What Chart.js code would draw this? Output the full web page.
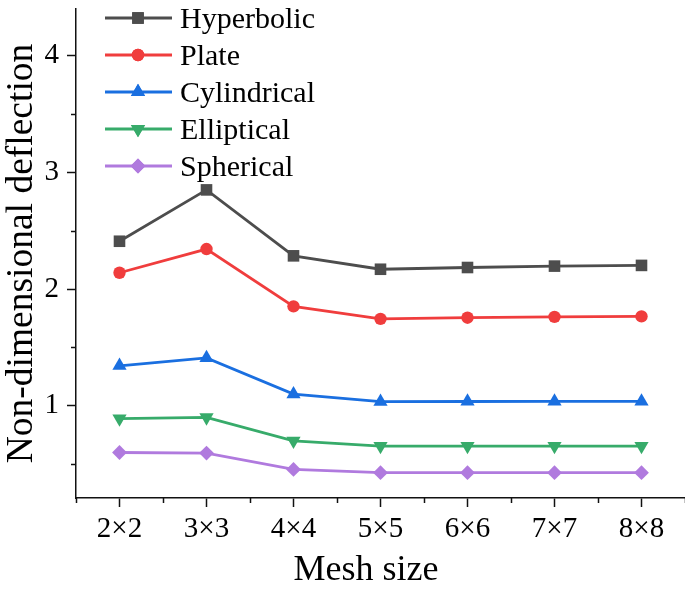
<!DOCTYPE html>
<html><head><meta charset="utf-8">
<script src="https://cdn.jsdelivr.net/npm/chart.js@4/dist/chart.umd.min.js"></script>
<style>html,body{margin:0;padding:0;background:#fff}#wrap{width:685px;height:591px;position:relative}canvas{display:block}</style>
</head><body><div id="wrap"><canvas id="c" width="685" height="591"></canvas></div>
<script>
const meshSizes = ['2×2','3×3','4×4','5×5','6×6','7×7','8×8'];
const hyperbolic = [2.41, 2.85, 2.285, 2.17, 2.185, 2.197, 2.203];
const plate = [2.14, 2.343, 1.852, 1.745, 1.755, 1.762, 1.766];
const cylindrical = [1.343, 1.41, 1.10, 1.035, 1.037, 1.038, 1.038];
const elliptical = [0.89, 0.90, 0.70, 0.655, 0.655, 0.655, 0.655];
const spherical = [0.60, 0.595, 0.455, 0.427, 0.427, 0.427, 0.427];
const yMajorTicks = [1, 2, 3, 4];
const yMinorTicks = [0.5, 1.5, 2.5, 3.5];
const seriesNames = ['Hyperbolic','Plate','Cylindrical','Elliptical','Spherical'];
const xTitle = 'Mesh size';
const yTitle = 'Non-dimensional deflection';

const FONT = "'Liberation Serif', 'Times New Roman', serif";
const styles = [
  {color:'#4d4d4d', pointStyle:'rect', radius:8.2, rotation:0},
  {color:'#f03d3d', pointStyle:'circle', radius:6.2, rotation:0},
  {color:'#1a6fe0', pointStyle:'triangle', radius:8.2, rotation:0},
  {color:'#37ab6a', pointStyle:'triangle', radius:8.2, rotation:180},
  {color:'#b07ade', pointStyle:'rectRot', radius:7.4, rotation:0}
];
const seriesData = [hyperbolic, plate, cylindrical, elliptical, spherical];

const datasets = seriesData.map((d,i)=>({
  label: seriesNames[i],
  data: d,
  borderColor: styles[i].color,
  backgroundColor: styles[i].color,
  borderWidth: 2.8,
  pointStyle: styles[i].pointStyle,
  pointRadius: styles[i].radius,
  pointRotation: styles[i].rotation,
  pointBorderWidth: 0,
  pointHoverRadius: styles[i].radius,
  tension: 0,
  clip: false
}));

const extras = {
  id:'extras',
  afterDraw(chart){
    const ctx = chart.ctx;
    const xs = chart.scales.x, ys = chart.scales.y;
    const area = chart.chartArea;
    ctx.save();
    ctx.strokeStyle = '#111';
    ctx.lineWidth = 1.5;
    yMinorTicks.forEach(v=>{
      const py = Math.round(ys.getPixelForValue(v))+0.5;
      ctx.beginPath(); ctx.moveTo(area.left-5, py); ctx.lineTo(area.left, py); ctx.stroke();
    });
    for (let k=-1;k<meshSizes.length;k++){
      const px = Math.round(xs.getPixelForValue(k+0.5))+0.5;
      ctx.beginPath(); ctx.moveTo(px, area.bottom); ctx.lineTo(px, area.bottom+5); ctx.stroke();
    }
    ctx.fillStyle = '#000';
    ctx.font = '36px ' + FONT;
    ctx.textAlign = 'center';
    ctx.textBaseline = 'alphabetic';
    ctx.fillText(xTitle, 366, 580);
    const rows = [18, 55, 92, 129, 166];
    chart.data.datasets.forEach((ds,i)=>{
      const y = rows[i];
      ctx.strokeStyle = ds.borderColor;
      ctx.lineWidth = 2.8;
      ctx.beginPath(); ctx.moveTo(105, y); ctx.lineTo(172, y); ctx.stroke();
      ctx.fillStyle = ds.backgroundColor;
      Chart.helpers.drawPoint(ctx, {pointStyle: ds.pointStyle, radius: ds.pointRadius, rotation: ds.pointRotation, borderWidth: 0}, 138, y);
      ctx.fill();
      ctx.fillStyle = '#000';
      ctx.font = '30px ' + FONT;
      ctx.textBaseline = 'alphabetic';
      ctx.textAlign = 'left';
      ctx.fillText(ds.label, 180, y + 10);
    });
    ctx.restore();
  }
};

function zeroPad(s){ s.paddingLeft = 0; s.paddingRight = 0; s.paddingTop = 0; s.paddingBottom = 0; }

new Chart(document.getElementById('c'), {
  type:'line',
  data:{labels: meshSizes, datasets},
  options:{
    responsive:false,
    animation:false,
    devicePixelRatio:1,
    layout:{autoPadding:false, padding:{top:9, right:0, left:0, bottom:0}},
    plugins:{legend:{display:false}, tooltip:{enabled:false}},
    scales:{
      x:{
        type:'category',
        offset:true,
        grid:{drawOnChartArea:false, drawTicks:true, tickLength:9, tickWidth:1.5, tickColor:'#111', offset:false},
        border:{display:true, color:'#111', width:1.5},
        ticks:{color:'#000', font:{family:FONT, size:29}, padding:5, maxRotation:0, autoSkip:false},
        title:{display:false},
        afterFit(s){ s.height = 93; zeroPad(s); }
      },
      y:{
        min:0.21, max:4.4,
        afterBuildTicks(s){ s.ticks = yMajorTicks.map(v=>({value:v})); },
        grid:{drawOnChartArea:false, drawTicks:true, tickLength:9, tickWidth:1.5, tickColor:'#111'},
        border:{display:true, color:'#111', width:1.5},
        ticks:{color:'#000', font:{family:FONT, size:29}, padding:8, callback:v=>String(v)},
        title:{display:true, text:yTitle, color:'#000', font:{family:FONT, size:37.5}, padding:{top:0,bottom:0}},
        afterFit(s){ s.width = 76; zeroPad(s); }
      }
    }
  },
  plugins:[extras]
});
</script></body></html>
